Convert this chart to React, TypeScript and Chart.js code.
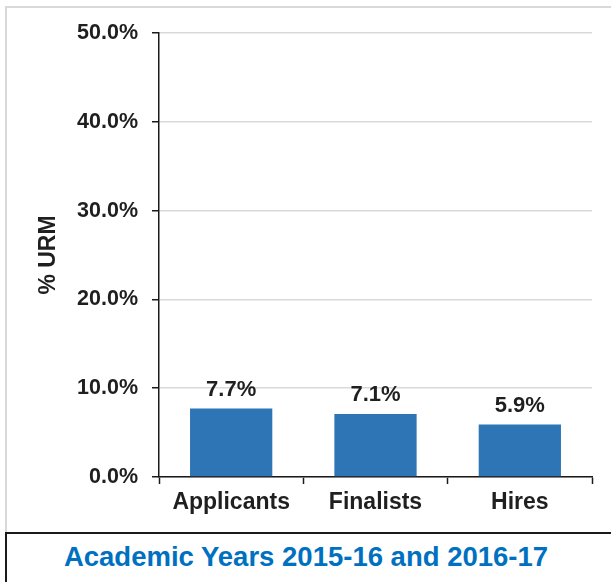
import React, { useEffect, useRef } from "react";
import { Chart, registerables } from "chart.js";

Chart.register(...registerables);

const categories = ["Applicants", "Finalists", "Hires"];
const urmPercent = [7.7, 7.1, 5.9];
const yTickMin = 0;
const yTickMax = 50;
const yTickStep = 10;
const yAxisTitle = "% URM";
const footerTitle = "Academic Years 2015-16 and 2016-17";

const FONT = '"Liberation Sans", Arial, sans-serif';
const TEXT = "#1f1f1f";

const dataLabelPlugin = {
  id: "dataLabels",
  afterDatasetsDraw(chart: any) {
    const ctx = chart.ctx;
    const meta = chart.getDatasetMeta(0);
    ctx.save();
    ctx.font = `bold 22px ${FONT}`;
    ctx.fillStyle = TEXT;
    ctx.textAlign = "center";
    ctx.textBaseline = "alphabetic";
    meta.data.forEach((bar: any, i: number) => {
      const v = chart.data.datasets[0].data[i] as number;
      ctx.fillText(v.toFixed(1) + "%", bar.x, bar.y - 13);
    });
    ctx.restore();
  },
};

export default function App() {
  const canvasRef = useRef<HTMLCanvasElement | null>(null);

  useEffect(() => {
    if (!canvasRef.current) return;
    const chart = new Chart(canvasRef.current, {
      type: "bar",
      data: {
        labels: categories,
        datasets: [
          {
            data: urmPercent,
            backgroundColor: "#2E75B6",
            borderWidth: 0,
            categoryPercentage: 1,
            barPercentage: 0.57,
          },
        ],
      },
      plugins: [dataLabelPlugin],
      options: {
        animation: false,
        responsive: false,
        maintainAspectRatio: false,
        layout: { padding: { left: 0, top: 33, right: 19, bottom: 0 } },
        plugins: { legend: { display: false }, tooltip: { enabled: false } },
        scales: {
          x: {
            offset: true,
            grid: {
              display: true,
              offset: true,
              drawOnChartArea: false,
              tickLength: 7,
              tickColor: "#1a1a1a",
              tickWidth: 1.5,
            },
            border: { display: true, color: "#1a1a1a", width: 1.5 },
            ticks: {
              color: TEXT,
              font: { family: FONT, size: 23, weight: "bold" },
              padding: 5,
              maxRotation: 0,
            },
            afterFit: (axis: any) => {
              axis.height = 55;
            },
          },
          y: {
            min: yTickMin,
            max: yTickMax,
            ticks: {
              stepSize: yTickStep,
              color: TEXT,
              font: { family: FONT, size: 21.5, weight: "bold" },
              padding: 14,
              callback: (v: any) => Number(v).toFixed(1) + "%",
            },
            grid: {
              color: "#d9d9d9",
              lineWidth: 1.5,
              tickLength: 7,
              tickColor: "#1a1a1a",
              tickWidth: 1.5,
            },
            border: { display: true, color: "#1a1a1a", width: 1.5 },
            title: {
              display: true,
              text: yAxisTitle,
              color: TEXT,
              font: { family: FONT, size: 23, weight: "bold" },
              padding: { top: 35, bottom: 0 },
            },
            afterFit: (axis: any) => {
              axis.width = 159;
            },
          },
        },
      },
    });
    return () => chart.destroy();
  }, []);

  return (
    <div
      style={{
        position: "absolute",
        left: 0,
        top: 0,
        width: 611,
        height: 582,
        background: "#ffffff",
        overflow: "hidden",
      }}
    >
      <div
        style={{
          position: "absolute",
          left: 5,
          top: 6,
          width: 620,
          height: 540,
          border: "2px solid #d9d9d9",
          boxSizing: "border-box",
        }}
      />
      <canvas
        ref={canvasRef}
        width={611}
        height={532}
        style={{ position: "absolute", left: 0, top: 0, width: 611, height: 532 }}
      />
      <div
        style={{
          position: "absolute",
          left: 5,
          top: 532,
          width: 640,
          height: 80,
          border: "2px solid #1a1a1a",
          boxSizing: "border-box",
          background: "#ffffff",
        }}
      />
      <div
        style={{
          position: "absolute",
          left: 6,
          top: 534,
          width: 600,
          height: 46,
          lineHeight: "46px",
          textAlign: "center",
          fontFamily: FONT,
          fontWeight: "bold",
          fontSize: 27.5,
          color: "#0070C0",
          whiteSpace: "nowrap",
        }}
      >
        {footerTitle}
      </div>
    </div>
  );
}
